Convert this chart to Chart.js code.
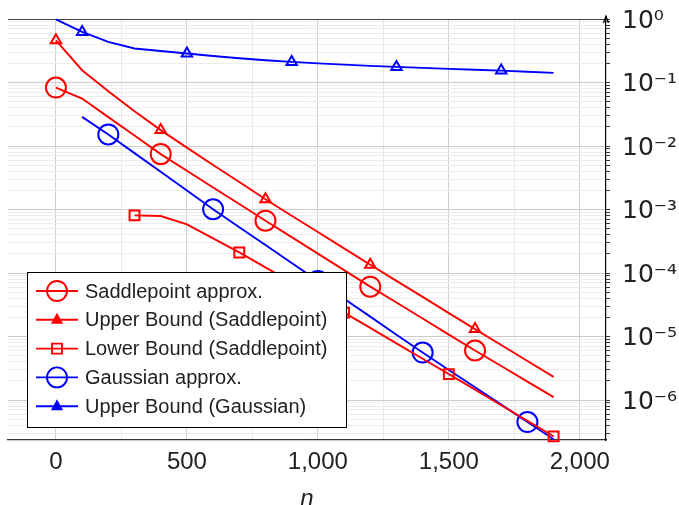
<!DOCTYPE html>
<html>
<head>
<meta charset="utf-8">
<title>Saddlepoint vs Gaussian approximation</title>
<script src="https://cdn.jsdelivr.net/npm/chart.js@4.4.1/dist/chart.umd.min.js"></script>
<style>
  html, body { margin: 0; padding: 0; background: #fff; }
</style>
</head>
<body>
<canvas id="myChart" width="679" height="505"></canvas>
<script>
'use strict';

// block lengths n (steps of 100)
const nFull = [0, 100, 200, 300, 400, 500, 600, 700, 800, 900, 1000, 1100, 1200, 1300, 1400, 1500, 1600, 1700, 1800, 1900];
const nGauss = nFull.slice(1);
const nLower = nFull.slice(3);

// values
const saddleApprox = [0.0834, 0.056, 0.0285, 0.0146, 0.00746, 0.00407, 0.00222, 0.00122, 6.67e-4, 3.67e-4, 2.02e-4, 1.11e-4, 6.1e-5, 3.43e-5, 1.92e-5, 1.07e-5, 6.03e-6, 3.44e-6, 1.95e-6, 1.11e-6];
const saddleUpper = [0.462, 0.156, 0.073, 0.0354, 0.0178, 0.00944, 0.00501, 0.00271, 0.00145, 8.0e-4, 4.43e-4, 2.45e-4, 1.35e-4, 7.54e-5, 4.21e-5, 2.34e-5, 1.31e-5, 7.35e-6, 4.13e-6, 2.32e-6];
const saddleLower = [8.1e-4, 7.9e-4, 5.85e-4, 3.52e-4, 2.11e-4, 1.23e-4, 7.09e-5, 4.12e-5, 2.38e-5, 1.37e-5, 7.82e-6, 4.48e-6, 2.56e-6, 1.46e-6, 8.28e-7, 4.71e-7, 2.68e-7];
const gaussApprox = [0.0288, 0.0152, 0.00773, 0.00393, 0.00199, 0.00101, 5.27e-4, 2.76e-4, 1.44e-4, 7.52e-5, 3.93e-5, 2.06e-5, 1.07e-5, 5.6e-6, 2.98e-6, 1.59e-6, 8.47e-7, 4.5e-7, 2.42e-7];
const gaussUpper = [0.99, 0.625, 0.435, 0.343, 0.314, 0.286, 0.261, 0.241, 0.224, 0.211, 0.2, 0.191, 0.183, 0.176, 0.17, 0.164, 0.159, 0.154, 0.148, 0.142];

// n values that carry a marker
const saddleMarks = [0, 400, 800, 1200, 1600];
const lowerMarks = [300, 700, 1100, 1500, 1900];
const gaussMarks = [200, 600, 1000, 1400, 1800];
const gaussUpperMarks = [100, 500, 900, 1300, 1700];

const seriesNames = ['Saddlepoint approx.', 'Upper Bound (Saddlepoint)', 'Lower Bound (Saddlepoint)', 'Gaussian approx.', 'Upper Bound (Gaussian)'];

const xTicks = [0, 500, 1000, 1500, 2000];
const xTickLabels = ['0', '500', '1,000', '1,500', '2,000'];
const yExponents = [0, -1, -2, -3, -4, -5, -6];
const yTickLabels = ['10\u2070', '10\u207B\u00B9', '10\u207B\u00B2', '10\u207B\u00B3', '10\u207B\u2074', '10\u207B\u2075', '10\u207B\u2076'];

const RED = '#ff0000';
const BLUE = '#0000ff';
const FONT = "'Liberation Sans', Arial, sans-serif";

const toPoints = function (ns, ys) {
  return ns.map((n, i) => ({ x: n, y: ys[i] }));
};

const makeSet = function (label, ns, ys, color, style, radius, marks) {
  return {
    label: label,
    data: toPoints(ns, ys),
    borderColor: color,
    borderWidth: 1.9,
    pointStyle: style,
    pointRadius: (ctx) => (ctx.raw && marks.includes(ctx.raw.x)) ? radius : 0,
    pointHoverRadius: 0,
    pointBorderColor: color,
    pointBackgroundColor: 'rgba(0,0,0,0)',
    pointBorderWidth: 2,
    tension: 0,
    fill: false,
    clip: false
  };
};

const datasets = [
  makeSet(seriesNames[0], nFull, saddleApprox, RED, 'circle', 10, saddleMarks),
  makeSet(seriesNames[1], nFull, saddleUpper, RED, 'triangle', 6, saddleMarks),
  makeSet(seriesNames[2], nLower, saddleLower, RED, 'rect', 7, lowerMarks),
  makeSet(seriesNames[3], nGauss, gaussApprox, BLUE, 'circle', 10, gaussMarks),
  makeSet(seriesNames[4], nFull, gaussUpper, BLUE, 'triangle', 6, gaussUpperMarks)
];

const isDecade = function (v) {
  const e = Math.log10(v);
  return Math.abs(e - Math.round(e)) < 1e-9;
};

// legend drawn as a boxed list in the lower left of the plot
const boxLegend = {
  id: 'boxLegend',
  afterDraw(chart) {
    const c = chart.ctx;
    const left = 27, top = 272, w = 319, h = 155, rowH = 28.8;
    c.save();
    c.fillStyle = '#fff';
    c.fillRect(left, top, w, h);
    c.strokeStyle = '#000';
    c.lineWidth = 1;
    c.strokeRect(left + 0.5, top + 0.5, w, h);
    chart.data.datasets.forEach((ds, i) => {
      const y = top + 19 + i * rowH;
      const mx = left + 30;
      c.strokeStyle = ds.borderColor;
      c.lineWidth = 1.9;
      c.beginPath();
      c.moveTo(left + 9, y);
      c.lineTo(left + 51, y);
      c.stroke();
      c.beginPath();
      if (ds.pointStyle === 'circle') {
        c.arc(mx, y, 10, 0, Math.PI * 2);
        c.stroke();
      } else if (ds.pointStyle === 'triangle') {
        c.fillStyle = ds.borderColor;
        c.moveTo(mx, y - 5);
        c.lineTo(mx + 4.5, y + 3);
        c.lineTo(mx - 4.5, y + 3);
        c.closePath();
        c.fill();
        c.stroke();
      } else {
        c.rect(mx - 5, y - 5, 10, 10);
        c.stroke();
      }
      c.fillStyle = '#222';
      c.font = '20px ' + FONT;
      c.textBaseline = 'middle';
      c.textAlign = 'left';
      c.fillText(ds.label, left + 58, y + 1);
    });
    c.restore();
  }
};

// arrow head on top of the right axis
const axisArrow = {
  id: 'axisArrow',
  afterDraw(chart) {
    const c = chart.ctx;
    const x = chart.chartArea.right;
    const y = chart.chartArea.top;
    c.save();
    c.strokeStyle = '#000';
    c.lineWidth = 1.2;
    c.beginPath();
    c.moveTo(x - 2.5, y + 4);
    c.lineTo(x, y - 3);
    c.lineTo(x + 2.5, y + 4);
    c.stroke();
    c.beginPath();
    c.moveTo(x, y);
    c.lineTo(x, y - 3);
    c.stroke();
    c.restore();
  }
};

const ctx = document.getElementById('myChart').getContext('2d');

const myChart = new Chart(ctx, {
  type: 'line',
  data: { datasets: datasets },
  plugins: [boxLegend, axisArrow],
  options: {
    responsive: false,
    animation: false,
    layout: { autoPadding: false, padding: { left: 8, top: 19, right: 0, bottom: 0 } },
    plugins: {
      legend: { display: false },
      tooltip: { enabled: false }
    },
    scales: {
      x: {
        type: 'linear',
        min: -183,
        max: 2100,
        afterBuildTicks: (scale) => {
          const t = [];
          for (let v = 0; v <= 2000; v += 250) t.push({ value: v });
          scale.ticks = t;
        },
        afterFit: (scale) => {
          scale.height = 65;
          scale.paddingLeft = 0;
          scale.paddingRight = 0;
        },
        ticks: {
          autoSkip: false,
          maxRotation: 0,
          color: '#222',
          padding: 8,
          font: { family: FONT, size: 24 },
          callback: (v) => {
            const i = xTicks.indexOf(v);
            return i >= 0 ? xTickLabels[i] : '';
          }
        },
        grid: {
          drawTicks: false,
          color: (c) => (c.tick && c.tick.value % 500 === 0) ? '#d0d0d0' : '#e8e8e8'
        },
        border: { color: '#333', width: 1.2 },
        title: {
          display: true,
          text: 'n',
          color: '#222',
          padding: 0,
          font: { family: FONT, size: 24, style: 'italic', lineHeight: 0.45 }
        }
      },
      y: {
        type: 'logarithmic',
        position: 'right',
        min: 2.35e-7,
        max: 1,
        afterBuildTicks: (scale) => {
          const t = [];
          for (let e = -7; e <= 0; e++) {
            for (let m = 1; m <= 9; m++) {
              const v = m * Math.pow(10, e);
              if (v >= scale.min && v <= scale.max * 1.0001) t.push({ value: v });
            }
          }
          scale.ticks = t;
        },
        afterFit: (scale) => {
          scale.width = 73;
          scale.paddingTop = 0;
          scale.paddingBottom = 0;
        },
        ticks: {
          autoSkip: false,
          color: '#222',
          padding: 12,
          labelOffset: 2,
          font: { family: "'DejaVu Sans', sans-serif", size: 25 },
          callback: (v) => {
            if (!isDecade(v)) return '';
            const i = yExponents.indexOf(Math.round(Math.log10(v)));
            return i >= 0 ? yTickLabels[i] : '';
          }
        },
        grid: {
          tickLength: 4,
          tickColor: '#333',
          color: (c) => {
            if (!c.tick) return '#eeeeee';
            if (c.tick.value >= 0.9999) return '#444444';
            return isDecade(c.tick.value) ? '#cbcbcb' : '#ededed';
          }
        },
        border: { color: '#000', width: 1.2 }
      }
    }
  }
});
</script>
</body>
</html>
